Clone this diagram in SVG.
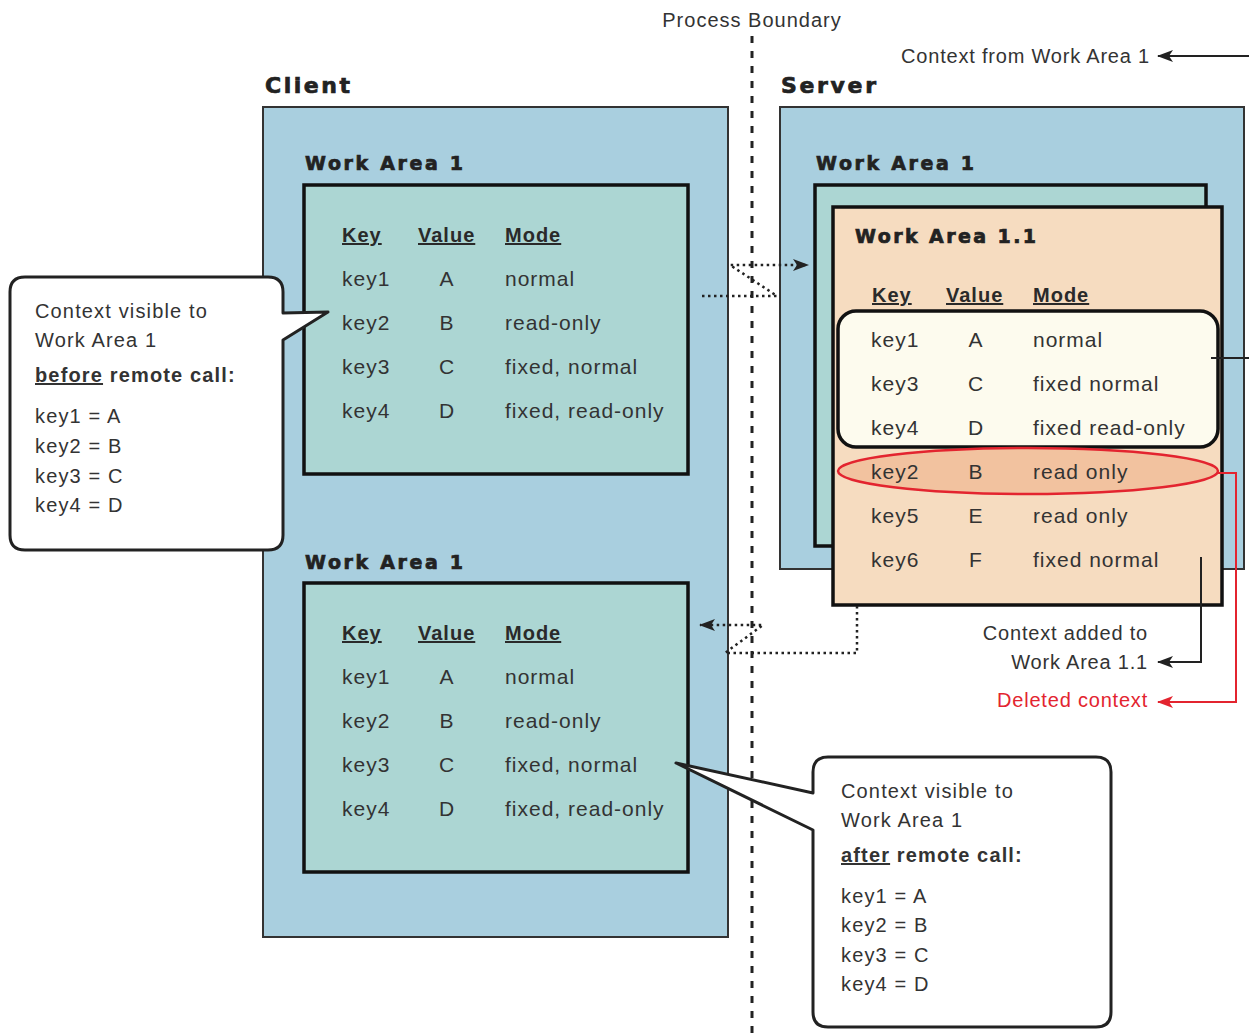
<svg xmlns="http://www.w3.org/2000/svg" width="1249" height="1036" viewBox="0 0 1249 1036">
<defs>
<style>
.t{font-family:"Liberation Sans",Arial,sans-serif;font-size:21px;fill:#333;letter-spacing:1px}
.s{font-family:"Liberation Sans",Arial,sans-serif;font-size:20px;fill:#333;letter-spacing:0.8px}
.h{font-family:"Liberation Sans",Arial,sans-serif;font-size:20px;font-weight:bold;fill:#2a2a2a;text-decoration:underline;letter-spacing:1px}
.ti{font-family:"DejaVu Sans",sans-serif;font-weight:bold;fill:#222;stroke:#222;stroke-width:0.7px}
.c{font-family:"Liberation Sans",Arial,sans-serif;font-size:20px;fill:#333;letter-spacing:1.15px}
.cb{font-weight:bold}
.blue{fill:#a9cfdf;stroke:#333;stroke-width:2}
.teal{fill:#acd6d3;stroke:#111;stroke-width:3.5}
.peach{fill:#f6dcc0;stroke:#111;stroke-width:3.5}
.dot{fill:none;stroke:#222;stroke-width:2.5;stroke-dasharray:2.5 3.5}
.ln{fill:none;stroke:#222;stroke-width:2}
.red{fill:none;stroke:#e3242f;stroke-width:2}
.call{fill:#fff;stroke:#222;stroke-width:3;stroke-linejoin:round}
.m{text-anchor:middle}
.e{text-anchor:end}
</style>
<marker id="ab" viewBox="0 0 16 12" refX="15" refY="6" markerWidth="16" markerHeight="12" markerUnits="userSpaceOnUse" orient="auto"><path d="M0,0 L16,6 L0,12 L4,6 z" fill="#222"/></marker>
<marker id="ar" viewBox="0 0 16 12" refX="15" refY="6" markerWidth="16" markerHeight="12" markerUnits="userSpaceOnUse" orient="auto"><path d="M0,0 L16,6 L0,12 L4,6 z" fill="#e3242f"/></marker>
</defs>
<rect width="1249" height="1036" fill="#fff"/>

<g id="process-boundary">
<text class="s m" x="752" y="27" style="letter-spacing:1px">Process Boundary</text>
<line x1="752" y1="36" x2="752" y2="1036" stroke="#222" stroke-width="3" stroke-dasharray="7 8"/>
</g>

<g id="client">
<text class="ti" x="265" y="93" font-size="22" textLength="85">Client</text>
<rect class="blue" x="263" y="107" width="465" height="830"/>
</g>

<g id="client-wa1-top">
<text class="ti" x="305" y="170" font-size="19" textLength="158">Work Area 1</text>
<rect class="teal" x="304" y="185" width="384" height="289"/>
<text class="h" x="342" y="242">Key</text><text class="h" x="418" y="242">Value</text><text class="h" x="505" y="242">Mode</text>
<text class="t" x="342" y="286">key1</text><text class="t m" x="447" y="286">A</text><text class="t" x="505" y="286">normal</text>
<text class="t" x="342" y="330">key2</text><text class="t m" x="447" y="330">B</text><text class="t" x="505" y="330">read-only</text>
<text class="t" x="342" y="374">key3</text><text class="t m" x="447" y="374">C</text><text class="t" x="505" y="374">fixed, normal</text>
<text class="t" x="342" y="418">key4</text><text class="t m" x="447" y="418">D</text><text class="t" x="505" y="418">fixed, read-only</text>
</g>

<g id="client-wa1-bottom">
<text class="ti" x="305" y="569" font-size="19" textLength="158">Work Area 1</text>
<rect class="teal" x="304" y="583" width="384" height="289"/>
<text class="h" x="342" y="640">Key</text><text class="h" x="418" y="640">Value</text><text class="h" x="505" y="640">Mode</text>
<text class="t" x="342" y="684">key1</text><text class="t m" x="447" y="684">A</text><text class="t" x="505" y="684">normal</text>
<text class="t" x="342" y="728">key2</text><text class="t m" x="447" y="728">B</text><text class="t" x="505" y="728">read-only</text>
<text class="t" x="342" y="772">key3</text><text class="t m" x="447" y="772">C</text><text class="t" x="505" y="772">fixed, normal</text>
<text class="t" x="342" y="816">key4</text><text class="t m" x="447" y="816">D</text><text class="t" x="505" y="816">fixed, read-only</text>
</g>

<g id="server">
<text class="ti" x="781" y="93" font-size="22" textLength="95">Server</text>
<rect class="blue" x="780" y="107" width="464" height="462"/>
</g>

<g id="server-wa1">
<text class="ti" x="816" y="170" font-size="19" textLength="158">Work Area 1</text>
<rect class="teal" x="815" y="185" width="391" height="361"/>
</g>

<g id="server-wa11">
<rect class="peach" x="833" y="207" width="389" height="398"/>
<text class="ti" x="855" y="243" font-size="19" textLength="181">Work Area 1.1</text>
<text class="h" x="872" y="302">Key</text><text class="h" x="946" y="302">Value</text><text class="h" x="1033" y="302">Mode</text>
<rect x="838" y="311" width="380" height="136" rx="18" fill="#fdfbee" stroke="#111" stroke-width="3.5"/>
<ellipse cx="1028" cy="471" rx="190" ry="23" fill="#f2c29f" stroke="#e3242f" stroke-width="2.5"/>
<text class="t" x="871" y="347">key1</text><text class="t m" x="976" y="347">A</text><text class="t" x="1033" y="347">normal</text>
<text class="t" x="871" y="391">key3</text><text class="t m" x="976" y="391">C</text><text class="t" x="1033" y="391">fixed normal</text>
<text class="t" x="871" y="435">key4</text><text class="t m" x="976" y="435">D</text><text class="t" x="1033" y="435">fixed read-only</text>
<text class="t" x="871" y="479">key2</text><text class="t m" x="976" y="479">B</text><text class="t" x="1033" y="479">read only</text>
<text class="t" x="871" y="523">key5</text><text class="t m" x="976" y="523">E</text><text class="t" x="1033" y="523">read only</text>
<text class="t" x="871" y="567">key6</text><text class="t m" x="976" y="567">F</text><text class="t" x="1033" y="567">fixed normal</text>
</g>

<g id="callout-before">
<path class="call" d="M25,277 H268 Q283,277 283,292 V313 L328,312 L283,340 V535 Q283,550 268,550 H25 Q10,550 10,535 V292 Q10,277 25,277 Z"/>
<text class="c" x="35" y="318">Context visible to</text>
<text class="c" x="35" y="347">Work Area 1</text>
<text class="c cb" x="35" y="382"><tspan text-decoration="underline">before</tspan> remote call:</text>
<text class="c" x="35" y="423">key1 = A</text>
<text class="c" x="35" y="453">key2 = B</text>
<text class="c" x="35" y="483">key3 = C</text>
<text class="c" x="35" y="512">key4 = D</text>
</g>

<g id="callout-after">
<path class="call" d="M828,757 H1096 Q1111,757 1111,772 V1012 Q1111,1027 1096,1027 H828 Q813,1027 813,1012 V830 L676,763 L813,793 V772 Q813,757 828,757 Z"/>
<text class="c" x="841" y="798">Context visible to</text>
<text class="c" x="841" y="827">Work Area 1</text>
<text class="c cb" x="841" y="862"><tspan text-decoration="underline">after</tspan> remote call:</text>
<text class="c" x="841" y="903">key1 = A</text>
<text class="c" x="841" y="932">key2 = B</text>
<text class="c" x="841" y="962">key3 = C</text>
<text class="c" x="841" y="991">key4 = D</text>
</g>

<g id="labels">
<text class="s e" x="1150" y="63">Context from Work Area 1</text>
<text class="s e" x="1148" y="640">Context added to</text>
<text class="s e" x="1148" y="669">Work Area 1.1</text>
<text class="s e" x="1148" y="707" style="fill:#e3242f">Deleted context</text>
</g>

<g id="connectors">
<path class="dot" d="M702,296 H777 L730,265 H808" marker-end="url(#ab)"/>
<path class="dot" d="M857,606 V653 H725 L763,625 H700" marker-end="url(#ab)"/>
<line class="ln" x1="1249" y1="56" x2="1158" y2="56" marker-end="url(#ab)"/>
<line class="ln" x1="1211" y1="358" x2="1249" y2="358"/>
<path class="ln" d="M1201,557 V662 H1158" marker-end="url(#ab)"/>
<path class="red" d="M1218,473 H1236 V702 H1158" marker-end="url(#ar)"/>
</g>
</svg>
